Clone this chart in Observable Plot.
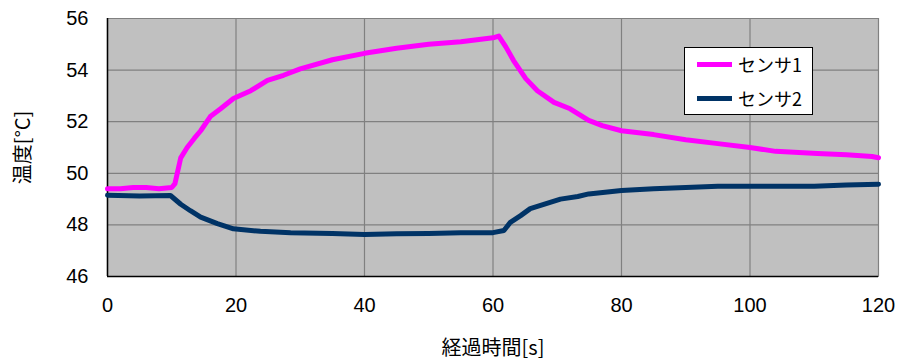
<!DOCTYPE html>
<html><head><meta charset="utf-8">
<script src="https://cdn.jsdelivr.net/npm/d3@7"></script>
<script src="https://cdn.jsdelivr.net/npm/@observablehq/plot@0.6"></script>
<style>
body{margin:0;background:#fff;}
#wrap{position:relative;width:900px;height:362px;}
.legend{position:absolute;left:684px;top:47px;width:127px;height:66px;background:#fff;border:1px solid #000;font-family:"Noto Sans CJK JP","Liberation Sans",sans-serif;font-size:18px;color:#000;}
.legend .row{position:absolute;left:12px;display:flex;align-items:center;}
.legend .sw{width:35px;height:5px;margin-right:6px;}
</style>
</head><body><div id="wrap"></div>
<script>
const seriesNames = ["センサ1", "センサ2"];
const seriesColors = ["#ff00ff", "#003366"];
const t1 = [0,2,4,6,8,10,10.5,11.4,12.4,13.5,14.5,16,17.6,19.6,22.3,24.9,27.4,30,35,40,45,50,55,60,60.9,62,63.2,65.1,66.9,69.5,72,74.9,77,80,85,90,95,100,104,110.5,115,119,120];
const v1 = [49.4,49.4,49.45,49.45,49.4,49.45,49.6,50.6,51.0,51.35,51.65,52.2,52.5,52.9,53.2,53.6,53.8,54.05,54.4,54.65,54.85,55.0,55.1,55.25,55.32,54.9,54.37,53.67,53.2,52.75,52.5,52.05,51.85,51.65,51.5,51.3,51.15,51.0,50.85,50.77,50.72,50.65,50.6];
const t2 = [0,5,9.8,11.4,12.9,14.5,17.1,19.6,23.8,28.5,35,40,45,50,55,60,61.7,62.7,64.3,65.8,67.9,70.5,73.2,74.9,80,85,90,95,100,110,115,120];
const v2 = [49.15,49.12,49.14,48.8,48.55,48.3,48.05,47.85,47.75,47.7,47.67,47.63,47.66,47.67,47.7,47.7,47.78,48.1,48.36,48.63,48.8,49.0,49.1,49.2,49.33,49.4,49.45,49.5,49.5,49.5,49.55,49.58];
const xTicks = [0,20,40,60,80,100,120];
const yTicks = [46,48,50,52,54,56];
const xTitle = "経過時間[s]";
const yTitle = "温度[°C]";

const d1 = t1.map((t,i)=>({t, v:v1[i], s:seriesNames[0]}));
const d2 = t2.map((t,i)=>({t, v:v2[i], s:seriesNames[1]}));

const chart = Plot.plot({
  width: 900, height: 362,
  marginLeft: 107, marginRight: 22, marginTop: 18, marginBottom: 86,
  style: {fontFamily: "'Liberation Sans', Arial, sans-serif", fontSize: "20px", color: "#000", background: "#fff"},
  x: {domain: [0,120]},
  y: {domain: [46,56]},
  marks: [
    Plot.frame({fill: "#c0c0c0", stroke: "#808080"}),
    Plot.gridX(xTicks, {stroke: "#808080", strokeOpacity: 1, strokeWidth: 1.2}),
    Plot.gridY(yTicks, {stroke: "#808080", strokeOpacity: 1, strokeWidth: 1.2}),
    Plot.axisX(xTicks, {tickSize: 0, tickPadding: 21, fontSize: 20, tickFormat: d=>String(d), label: xTitle, labelAnchor: "center", labelArrow: "none", labelOffset: 78}),
    Plot.axisY(yTicks, {tickSize: 0, tickPadding: 19, fontSize: 20, tickFormat: d=>String(d), label: yTitle, labelAnchor: "center", labelArrow: "none", labelOffset: 92}),
    Plot.ruleX([0], {stroke: "#000", strokeWidth: 1.5}),
    Plot.ruleY([46], {stroke: "#000", strokeWidth: 1.5}),
    Plot.line(d1, {x: "t", y: "v", stroke: seriesColors[0], strokeWidth: 5}),
    Plot.line(d2, {x: "t", y: "v", stroke: seriesColors[1], strokeWidth: 5})
  ]
});
const wrap = document.getElementById("wrap");
wrap.appendChild(chart);
chart.querySelectorAll('[aria-label="x-axis label"], [aria-label="y-axis label"]').forEach(el=>{el.style.fontFamily="'Noto Sans CJK JP', sans-serif"; el.setAttribute("font-size","20");});
const lg = document.createElement("div");
lg.className = "legend";
seriesNames.forEach((n,i)=>{
  const r = document.createElement("div");
  r.className = "row";
  r.style.top = (i===0 ? 3 : 37) + "px";
  r.innerHTML = `<span class="sw" style="background:${seriesColors[i]}"></span><span>${n}</span>`;
  lg.appendChild(r);
});
wrap.appendChild(lg);
</script>
</body></html>
